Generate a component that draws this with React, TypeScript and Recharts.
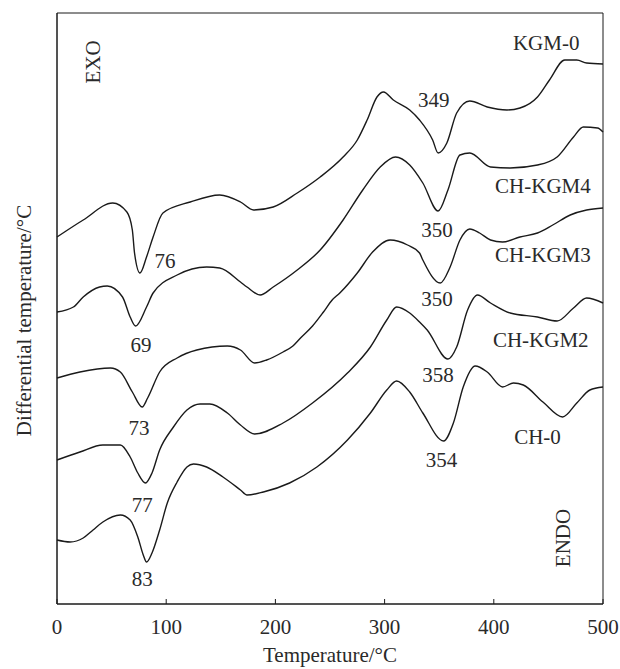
import React from 'react';
import { LineChart, Line, XAxis, YAxis, ReferenceArea, ReferenceDot } from 'recharts';

// DTA curves, [temperature °C, signal (arbitrary units)]
const KGM0: [number, number][] = [
  [0, 367], [24, 384], [51, 401], [64, 392], [69, 374], [71, 351], [76, 331], [82, 347], [88, 367],
  [97, 391], [122, 402], [149, 409], [168, 402], [180, 394], [198, 397], [220, 411], [241, 427],
  [262, 447], [275, 464], [284, 484], [293, 507], [299, 512], [308, 504], [323, 494], [332, 484],
  [344, 464], [349, 451], [357, 461], [366, 491], [378, 503], [394, 497], [412, 494], [424, 496],
  [440, 507], [451, 524], [465, 544], [476, 544], [485, 541], [500, 540],
];
const CHKGM4: [number, number][] = [
  [0, 292], [15, 297], [24, 307], [39, 317], [46, 318], [60, 307], [67, 287], [72, 278], [82, 297],
  [88, 311], [110, 329], [137, 337], [149, 336], [168, 322], [174, 317], [186, 309], [198, 317],
  [220, 334], [241, 354], [262, 384], [280, 414], [296, 437], [310, 447], [323, 439], [335, 421],
  [349, 393], [358, 414], [369, 449], [378, 451], [397, 437], [415, 436], [440, 439], [458, 447],
  [473, 467], [482, 477], [495, 476], [500, 472],
];
const CHKGM3: [number, number][] = [
  [0, 226], [21, 232], [49, 236], [58, 232], [69, 212], [78, 197], [83, 206], [94, 232], [110, 246],
  [128, 254], [156, 258], [168, 254], [181, 241], [192, 244], [207, 252], [216, 258], [223, 266],
  [234, 278], [244, 292], [252, 304], [259, 311], [275, 331], [289, 352], [305, 364], [321, 359],
  [332, 351], [335, 344], [351, 321], [360, 337], [369, 364], [378, 375], [387, 371], [397, 364],
  [408, 362], [424, 367], [440, 371], [454, 379], [470, 389], [485, 394], [500, 396],
];
const CHKGM2: [number, number][] = [
  [0, 144], [21, 152], [42, 159], [58, 159], [67, 147], [74, 131], [81, 121], [87, 131], [94, 154],
  [106, 176], [119, 194], [131, 200], [140, 200], [156, 191], [168, 179], [181, 170], [207, 181],
  [234, 201], [266, 231], [287, 257], [302, 284], [311, 297], [323, 291], [332, 282], [339, 274],
  [358, 245], [366, 257], [376, 294], [385, 309], [397, 301], [415, 291], [440, 287], [458, 283],
  [473, 296], [485, 306], [500, 301],
];
const CH0: [number, number][] = [
  [0, 64], [12, 62], [24, 66], [33, 74], [42, 82], [58, 89], [67, 84], [74, 67], [79, 49], [82, 42],
  [87, 51], [94, 74], [101, 101], [110, 122], [119, 137], [125, 140], [137, 137], [152, 127],
  [168, 114], [174, 109], [189, 112], [213, 121], [238, 137], [266, 164], [287, 191], [302, 214],
  [311, 223], [323, 212], [335, 191], [354, 163], [363, 181], [372, 217], [383, 238], [394, 232],
  [408, 217], [418, 221], [427, 219], [445, 202], [463, 187], [476, 201], [488, 214], [500, 217],
];

const SERIES = [
  { name: 'KGM-0', pts: KGM0 },
  { name: 'CH-KGM4', pts: CHKGM4 },
  { name: 'CH-KGM3', pts: CHKGM3 },
  { name: 'CH-KGM2', pts: CHKGM2 },
  { name: 'CH-0', pts: CH0 },
];

const xTicks = [0, 100, 200, 300, 400, 500];

// curve names and peak temperatures, placed in data coordinates
const curveLabels: [string, number, number][] = [
  ['KGM-0', 448, 561], ['CH-KGM4', 445, 418], ['CH-KGM3', 445, 349],
  ['CH-KGM2', 443, 264], ['CH-0', 440, 167],
];
const peakLabels: [string, number, number][] = [
  ['76', 99, 343], ['69', 77, 259], ['73', 75, 176], ['77', 78, 99], ['83', 78, 25],
  ['349', 345, 504], ['350', 348, 374], ['350', 348, 305], ['358', 349, 229], ['354', 352, 144],
];
const sideLabels: [string, number, number][] = [['EXO', 33, 542], ['ENDO', 463, 66]];

const ink = '#1a1a1a';
const textInk = '#2a2a2a';

const toData = (pts: [number, number][]) => pts.map(([t, v]) => ({ t, v }));

const YTitle = (props: any) => {
  const { viewBox } = props;
  const x = viewBox.x + 24;
  const y = viewBox.y + viewBox.height / 2 + 12;
  return (
    <text x={x} y={y} transform={`rotate(-90, ${x}, ${y})`} textAnchor="middle"
      dominantBaseline="central" fontSize={21} fill={textInk}>
      Differential temperature/°C
    </text>
  );
};

export default function App() {
  return (
    <div style={{ position: 'absolute', left: 0, top: 0, fontFamily: '"Liberation Serif", serif', background: '#fff' }}>
      <LineChart width={620} height={669} margin={{ top: 13, right: 17, bottom: 0, left: 0 }}>
        <XAxis type="number" dataKey="t" domain={[0, 500]} ticks={xTicks} height={65}
          tickSize={-5} tickMargin={20} stroke={ink}
          tick={{ fontSize: 21, fill: textInk }}
          label={{ value: 'Temperature/°C', position: 'insideBottom', offset: 7, fontSize: 21, fill: textInk }} />
        <YAxis type="number" dataKey="v" domain={[0, 591]} width={57} tick={false} tickLine={false}
          stroke={ink} label={{ content: YTitle }} />
        <ReferenceArea x1={0} x2={500} y1={0} y2={591} fill="none" stroke={ink} strokeWidth={1} />
        {SERIES.map(s => (
          <Line key={s.name} data={toData(s.pts)} dataKey="v" type="monotone" stroke={ink}
            strokeWidth={1.4} dot={false} isAnimationActive={false} />
        ))}
        {curveLabels.map(([txt, t, v]) => (
          <ReferenceDot key={txt} x={t} y={v} r={0} stroke="none" fill="none"
            label={{ value: txt, position: 'center', fontSize: 21, fill: textInk }} />
        ))}
        {peakLabels.map(([txt, t, v], i) => (
          <ReferenceDot key={'p' + i} x={t} y={v} r={0} stroke="none" fill="none"
            label={{ value: txt, position: 'center', fontSize: 21, fill: textInk }} />
        ))}
        {sideLabels.map(([txt, t, v]) => (
          <ReferenceDot key={txt} x={t} y={v} r={0} stroke="none" fill="none"
            label={{ value: txt, position: 'center', angle: -90, fontSize: 21, fill: textInk }} />
        ))}
      </LineChart>
    </div>
  );
}
